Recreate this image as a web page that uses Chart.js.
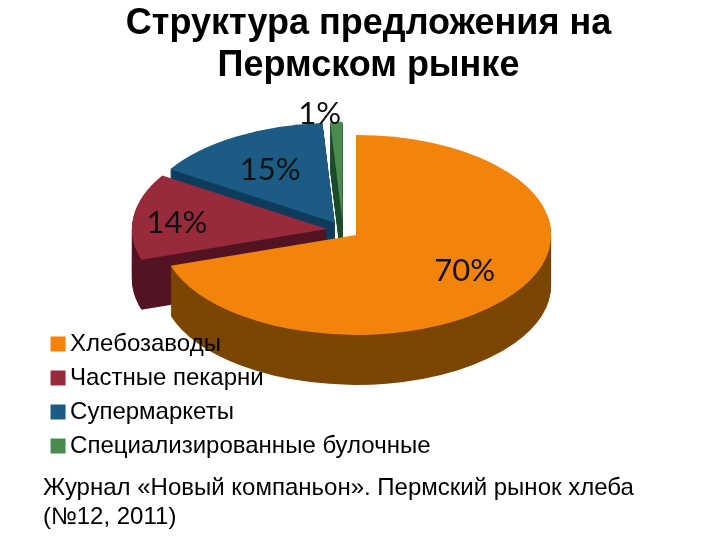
<!DOCTYPE html>
<html><head><meta charset="utf-8">
<style>html,body{margin:0;padding:0;background:#fff}canvas{display:block}</style>
<script src="https://cdn.jsdelivr.net/npm/chart.js@4"></script>
</head><body><canvas id="c" width="720" height="540"></canvas>
<script>
const categories = ["Хлебозаводы","Частные пекарни","Супермаркеты","Специализированные булочные"];
const shares = [70,14,15,1];
const topColors = ["#F2830B","#982A3C","#1C5B84","#4C8B4E"];
const sideColors = ["#7B4603","#531423","#103C5C","#1F4D2D"];
const titleLines = ["Структура предложения на","Пермском рынке"];
const sourceLines = ["Журнал «Новый компаньон». Пермский рынок хлеба","(№12, 2011)"];

const CX=343, CY=230, RX=195, RY=100, DEPTH=50, EXPLODE=0.083;
const labelFactor=[0.65,0.75,0.64,1.1];
const labelNudge=[[6,-2],[-5,3],[-1,2],[-16,2]];

function midOf(arc){return (arc.startAngle+arc.endAngle)/2;}
function centerOf(arc){
  const m=midOf(arc);
  return {x:CX+Math.cos(m)*EXPLODE*RX, y:CY+Math.sin(m)*EXPLODE*RY};
}
function drawArc(ctx,arc,color,d){
  const sx=RX/arc.outerRadius, sy=RY/arc.outerRadius, orig=arc.options, c=centerOf(arc);
  arc.options=Object.assign(Object.create(orig),{backgroundColor:color,borderWidth:0});
  ctx.save();
  ctx.translate(c.x,c.y+d);ctx.scale(sx,sy);ctx.translate(-arc.x,-arc.y);
  arc.draw(ctx);
  ctx.restore();
  arc.options=orig;
}
const pie3d={
  id:'pie3d',
  afterLayout(chart){
    chart.boxes.forEach(b=>{
      if(b===chart.legend){b.left=48;b.right=720;b.top=322;b.bottom=470;}
      else if(b.options&&b.options.text&&b.options.text[0]===sourceLines[0]){const w=b.right-b.left;b.left=43;b.right=43+w;}
    });
  },
  beforeDraw(chart){
    const ctx=chart.ctx, arcs=chart.getDatasetMeta(0).data;
    for(let i=arcs.length-1;i>=0;i--){
      for(let d=DEPTH;d>=1;d--) drawArc(ctx,arcs[i],sideColors[i],d);
      drawArc(ctx,arcs[i],topColors[i],0);
    }
  },
  beforeDatasetsDraw(){return false;},
  afterDraw(chart){
    const ctx=chart.ctx, arcs=chart.getDatasetMeta(0).data;
    ctx.save();
    ctx.font='31px Lato';ctx.fillStyle='#111';ctx.textAlign='center';ctx.textBaseline='middle';
    arcs.forEach((arc,i)=>{
      const m=midOf(arc), c=centerOf(arc);
      ctx.fillText(shares[i]+'%',c.x+Math.cos(m)*RX*labelFactor[i]+labelNudge[i][0],c.y+Math.sin(m)*RY*labelFactor[i]+labelNudge[i][1]);
    });
    ctx.restore();
  }
};
new Chart(document.getElementById('c'),{
  type:'pie',
  data:{labels:categories,datasets:[{data:shares,backgroundColor:topColors,borderWidth:0}]},
  plugins:[pie3d],
  options:{
    responsive:false,animation:false,radius:100,
    layout:{padding:{left:17,right:0,top:0,bottom:8}},
    plugins:{
      tooltip:{enabled:false},
      title:{display:true,text:titleLines,color:'#000',font:{family:'"Liberation Sans"',size:36,weight:'bold',lineHeight:1.17},padding:{top:3,bottom:0}},
      subtitle:{display:true,position:'bottom',align:'start',text:sourceLines,color:'#000',font:{family:'"Liberation Sans"',size:24,lineHeight:1.21},padding:{top:0,bottom:0}},
      legend:{position:'left',align:'start',labels:{usePointStyle:true,pointStyle:'rect',boxWidth:0.1,boxHeight:15,padding:10,color:'#000',font:{family:'"Liberation Sans"',size:24}}}
    }
  }
});
</script></body></html>
